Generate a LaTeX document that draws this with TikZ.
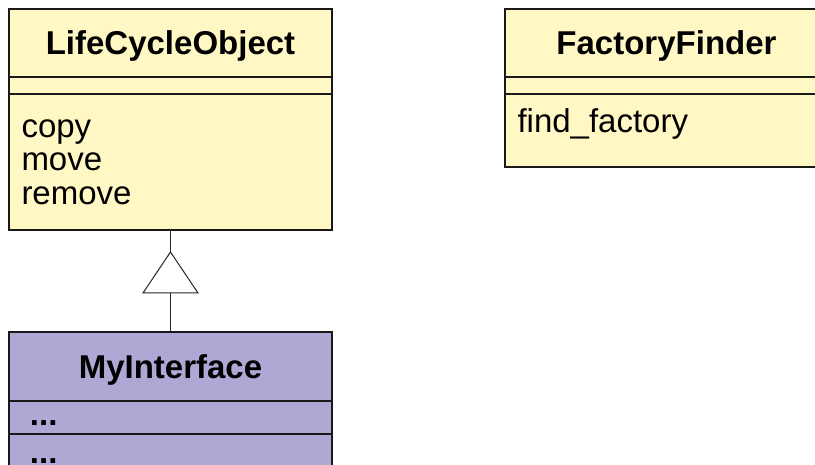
\documentclass[tikz,border=0pt]{standalone}
\usepackage{fontspec}
\setmainfont{Liberation Sans}
\usepackage{tikz}
\usetikzlibrary{positioning}

\definecolor{classyellow}{RGB}{255,248,196}
\definecolor{ifacepurple}{RGB}{175,168,212}

\begin{document}
\begin{tikzpicture}[x=1pt, y=-1pt, node distance=0pt,
    classbox/.style={draw=black!90, line width=1.4pt, minimum width=323pt, outer sep=0pt, inner sep=0pt},
    classname/.style={classbox, minimum height=68pt, text height=24pt, text depth=0pt, font=\fontsize{33}{34}\selectfont\bfseries},
    classops/.style={classbox, text width=298pt, inner xsep=12.5pt, align=left, font=\fontsize{33}{33.5}\selectfont},
    classdots/.style={classbox, text width=281pt, inner xsep=21pt, align=left, text height=15pt, text depth=0pt, font=\fontsize{33}{33.5}\selectfont\bfseries}]
    \useasboundingbox (0,0) rectangle (815,465);
    \clip (0,0) rectangle (815,465);

    \node[classname, fill=classyellow] (lco) at (170.5,43) {LifeCycleObject};
    \node[classbox, fill=classyellow, minimum height=17pt] (lco attr) [below=of lco] {};
    \node[classops, fill=classyellow, minimum height=136pt] (lco ops) [below=of lco attr] {copy\\move\\remove};

    \node[classname, fill=classyellow] (ff) at (666.5,43) {FactoryFinder};
    \node[classbox, fill=classyellow, minimum height=17pt] (ff attr) [below=of ff] {};
    \node[classops, fill=classyellow, minimum height=73pt, text height=24pt, text depth=19pt] (ff ops) [below=of ff attr] {find\_factory};

    \node[classname, fill=ifacepurple, minimum height=69pt] (mi) at (170.5,366.5) {MyInterface};
    \node[classdots, fill=ifacepurple, minimum height=33pt] (mi attr) [below=of mi] {...};
    \node[classdots, fill=ifacepurple, minimum height=43pt] (mi ops) [below=of mi attr] {...};

    \coordinate (gen apex) at (170.5,252);
    \coordinate (gen base) at (170.5,293);
    \draw[line width=1pt, black!85] (lco ops) -- (gen apex);
    \draw[line width=1pt, black!85, fill=white] (gen apex) -- ++(27.5,41) -- ++(-55,0) -- cycle;
    \draw[line width=1pt, black!85] (gen base) -- (mi);
\end{tikzpicture}
\end{document}
